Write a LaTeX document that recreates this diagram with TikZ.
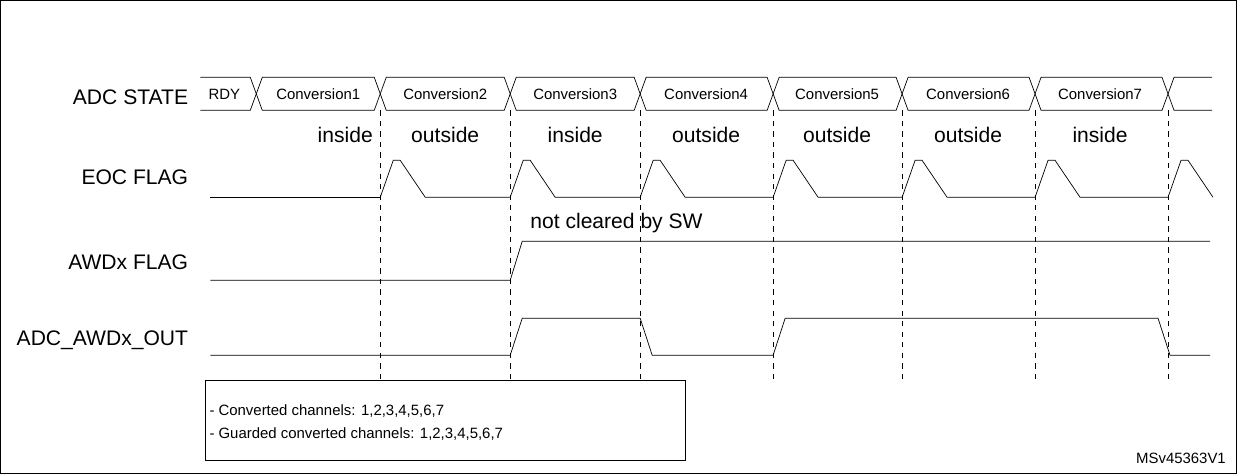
\documentclass[tikz,border=0pt]{standalone}
\usepackage{fontspec}
\setmainfont{Liberation Sans}
\usetikzlibrary{positioning,calc}
\tikzset{
    signal/.style={draw, thin},
    guide/.style={draw, thin, dashed},
    sig label/.style={anchor=east, font=\fontsize{12}{14}\selectfont},
    bus label/.style={font=\fontsize{8.5}{10}\selectfont},
    zone label/.style={font=\fontsize{12}{14}\selectfont}
}
\begin{document}
\begin{tikzpicture}[x=0.02cm, y=-0.02cm]
    % frame
    \draw[thin] (0,0) rectangle (1236,473);
    \useasboundingbox (0,0) rectangle (1237,474);

    % signal names
    \node [sig label] (state) at (194,97) {ADC STATE};
    \node [sig label] (eoc) at (194,177) {EOC FLAG};
    \node [sig label] (awd) at (194,262) {AWDx FLAG};
    \node [sig label] (out) at (194,340) {ADC\_AWDx\_OUT};

    % state bus
    \draw[signal] (200,77) -- (250,77) -- (262,110) -- (374,110) -- (386,77) -- (504,77) -- (516,110) -- (634,110) -- (646,77)
        -- (767,77) -- (779,110) -- (896,110) -- (908,77) -- (1029,77) -- (1041,110) -- (1162,110) -- (1174,77) -- (1212,77);
    \draw[signal] (200,110) -- (250,110) -- (262,77) -- (374,77) -- (386,110) -- (504,110) -- (516,77) -- (634,77) -- (646,110)
        -- (767,110) -- (779,77) -- (896,77) -- (908,110) -- (1029,110) -- (1041,77) -- (1162,77) -- (1174,110) -- (1212,110);
    \node [bus label] (rdy) at (224,94) {RDY};
    \foreach \n/\x in {1/318,2/445,3/575,4/706,5/837,6/968,7/1100}
        \node [bus label] (conv\n) at (\x,94) {Conversion\n};

    % window result per conversion
    \foreach \t/\x in {inside/345,outside/445,inside/575,outside/706,outside/837,outside/968,inside/1100}
        \node [zone label] at (\x,135) {\t};

    % dashed guides
    \foreach \x in {380,510,640,773,902,1035,1168}
        \draw[guide] (\x,110) -- (\x,380);

    % EOC flag
    \draw[signal] (210,197) -- (380,197);
    \foreach \x/\nx in {380/510,510/640,640/773,773/902,902/1035,1035/1168}
        \draw[signal] (\x,197) -- ++(13,-37) -- ++(7,0) -- ++(25,37) -- (\nx,197);
    \draw[signal] (1168,197) -- ++(13,-37) -- ++(7,0) -- ++(25,37);

    % AWDx flag
    \draw[signal] (210,280) -- (510,280) -- (522,241) -- (1210,241);
    \node [zone label, anchor=south west] (clr) at (524,239) {not cleared by SW};

    % watchdog output
    \draw[signal] (210,355) -- (510,355) -- (522,318) -- (640,318) -- (652,355) -- (773,355) -- (785,318)
        -- (1158,318) -- (1170,355) -- (1210,355);

    % legend box
    \draw[thin] (205,380) rectangle (685,460);
    \node [anchor=north west, align=left, font=\fontsize{8.5}{13}\selectfont] (legend) at (203,398)
        {- Converted channels: 1,2,3,4,5,6,7\\- Guarded converted channels: 1,2,3,4,5,6,7};

    \node [bus label, anchor=east] (ref) at (1232,458) {MSv45363V1};
\end{tikzpicture}
\end{document}
